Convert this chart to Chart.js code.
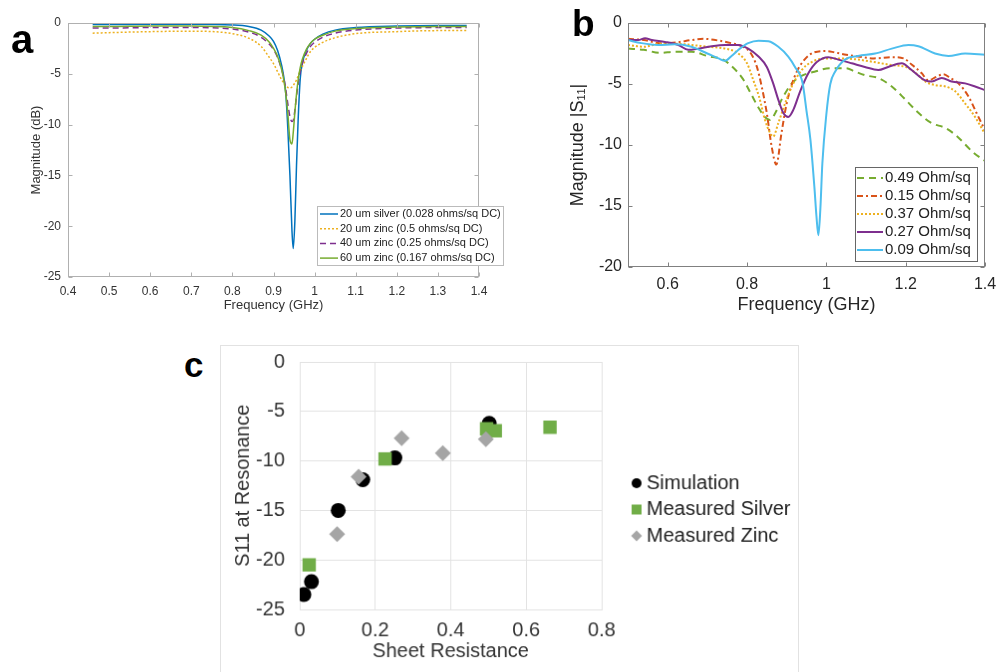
<!DOCTYPE html>
<html>
<head>
<meta charset="utf-8">
<script src="https://cdn.jsdelivr.net/npm/chart.js@4.4.1/dist/chart.umd.min.js"></script>
<style>
  body { margin: 0; width: 996px; height: 672px; overflow: hidden; background: #fff; position: relative; font-family: "Liberation Sans", Arial, sans-serif; }
  canvas { position: absolute; }
  #cvA { left: 0; top: 0; }
  #cvB { left: 540px; top: 0; }
  #cvC { left: 220px; top: 345px; border: 1px solid #e2e2e2; }
  .tag { position: absolute; font-weight: bold; line-height: 1; color: #000; }
</style>
</head>
<body>
<canvas id="cvA" width="540" height="320"></canvas>
<canvas id="cvB" width="456" height="320"></canvas>
<canvas id="cvC" width="579" height="330"></canvas>
<div class="tag" style="left:11px;top:19px;font-size:40px">a</div>
<div class="tag" style="left:572px;top:5px;font-size:37px">b</div>
<div class="tag" style="left:184px;top:347px;font-size:35px">c</div>
<script>
// ---- panel a : simulated S11 (dB) ----
const freqA = [0.46, 0.5, 0.6, 0.7, 0.8, 0.84, 0.87, 0.89, 0.9, 0.91, 0.92, 0.925, 0.93, 0.935, 0.94, 0.945,
               0.948, 0.952, 0.956, 0.96, 0.965, 0.97, 0.98, 0.99, 1.0, 1.02, 1.05, 1.1, 1.2, 1.3, 1.37];
const silver20 = [-0.15, -0.15, -0.13, -0.13, -0.2, -0.35, -0.7, -1.3, -1.8, -2.7, -4.2, -5.3, -7, -10.5, -15, -20.5,
                  -22.2, -19.5, -14, -9.5, -5.5, -4, -2.7, -2.0, -1.6, -1.1, -0.7, -0.45, -0.3, -0.25, -0.25];
const zinc20 = [-1.0, -0.95, -0.85, -0.8, -1.05, -1.5, -2.3, -3.4, -4.0, -4.8, -5.6, -5.9, -6.2, -6.35, -6.4, -6.3,
                -6.15, -5.9, -5.6, -5.2, -4.7, -4.3, -3.5, -2.8, -2.4, -1.9, -1.45, -1.05, -0.85, -0.75, -0.75];
const zinc40 = [-0.5, -0.5, -0.45, -0.45, -0.6, -0.9, -1.4, -2.1, -2.6, -3.4, -4.6, -5.4, -6.6, -8.0, -9.2, -9.7,
                -9.6, -8.6, -7.2, -6.0, -4.8, -4.0, -3.0, -2.3, -1.9, -1.4, -1.0, -0.7, -0.5, -0.45, -0.45];
const zinc60 = [-0.35, -0.35, -0.3, -0.3, -0.45, -0.75, -1.2, -1.9, -2.5, -3.3, -4.6, -5.6, -7.0, -9.0, -11.5, -11.9,
                -10.8, -8.8, -7.0, -5.6, -4.4, -3.6, -2.6, -2.0, -1.6, -1.2, -0.8, -0.55, -0.4, -0.35, -0.35];
const aTicksX = [0.4, 0.5, 0.6, 0.7, 0.8, 0.9, 1, 1.1, 1.2, 1.3, 1.4];
const aTicksY = [0, -5, -10, -15, -20, -25];

// ---- panel b : measured |S11| ----
const bFreq049 = [0.5, 0.54, 0.58, 0.62, 0.66, 0.7, 0.74, 0.76, 0.79, 0.81, 0.83, 0.845, 0.858, 0.871, 0.887, 0.913,
                  0.94, 0.97, 1.01, 1.05, 1.07, 1.1, 1.13, 1.165, 1.2, 1.23, 1.265, 1.3, 1.33, 1.37, 1.4];
const bMag049 = [-2.1, -2.2, -2.45, -2.35, -2.35, -2.7, -3.0, -3.5, -4.6, -5.8, -7.0, -7.7, -7.95, -7.4, -6.3, -4.95,
                 -4.3, -4.0, -3.7, -3.7, -3.95, -4.3, -4.5, -5.2, -6.3, -7.3, -8.2, -8.6, -9.3, -10.6, -11.3];
const bFreq015 = [0.5, 0.54, 0.58, 0.62, 0.66, 0.69, 0.73, 0.76, 0.79, 0.81, 0.825, 0.837, 0.85, 0.862, 0.874, 0.887,
                  0.9, 0.92, 0.945, 0.97, 1.0, 1.02, 1.05, 1.08, 1.12, 1.165, 1.195, 1.215, 1.24, 1.257, 1.278, 1.295,
                  1.312, 1.333, 1.358, 1.379, 1.4];
const bMag015 = [-1.3, -1.4, -1.65, -1.6, -1.4, -1.3, -1.45, -1.65, -1.95, -2.5, -3.6, -5.2, -7.4, -10.1, -11.6, -9.0,
                 -6.6, -4.4, -3.0, -2.4, -2.3, -2.4, -2.6, -2.75, -2.9, -2.8, -2.9, -3.4, -4.1, -4.7, -4.4, -4.2,
                 -4.5, -4.95, -6.0, -7.4, -8.8];
const bFreq037 = [0.5, 0.54, 0.58, 0.62, 0.66, 0.7, 0.745, 0.778, 0.8, 0.816, 0.83, 0.845, 0.858, 0.866, 0.879, 0.896,
                  0.913, 0.938, 0.963, 1.0, 1.04, 1.08, 1.12, 1.165, 1.2, 1.225, 1.25, 1.275, 1.3, 1.325, 1.35, 1.375, 1.4];
const bMag037 = [-1.8, -1.95, -1.7, -1.7, -1.8, -1.95, -2.1, -2.5, -3.3, -4.7, -6.0, -7.9, -9.0, -9.3, -8.2, -6.6,
                 -5.2, -3.85, -3.2, -2.9, -2.9, -3.0, -3.2, -3.45, -3.6, -4.1, -4.8, -5.1, -5.2, -5.6, -6.6, -7.7, -9.1];
const bFreq027 = [0.5, 0.526, 0.543, 0.56, 0.593, 0.627, 0.652, 0.677, 0.711, 0.745, 0.778, 0.803, 0.829, 0.85, 0.866,
                  0.879, 0.892, 0.904, 0.917, 0.934, 0.955, 0.976, 1.005, 1.03, 1.064, 1.097, 1.131, 1.156, 1.19, 1.215,
                  1.249, 1.266, 1.291, 1.316, 1.35, 1.375, 1.4];
const bMag027 = [-1.4, -1.4, -1.25, -1.4, -1.55, -1.8, -2.2, -2.1, -1.9, -1.8, -1.8, -2.1, -2.75, -3.6, -4.95,
                 -6.3, -7.4, -7.7, -7.1, -5.6, -4.1, -3.2, -2.8, -3.0, -3.3, -3.6, -3.85, -3.6, -3.3, -3.85,
                 -4.7, -4.8, -4.5, -4.8, -4.95, -5.2, -5.5];
const bFreq009 = [0.5, 0.534, 0.576, 0.618, 0.66, 0.7, 0.728, 0.745, 0.761, 0.782, 0.803, 0.829, 0.854, 0.879, 0.904,
                  0.921, 0.94, 0.95, 0.96, 0.97, 0.975, 0.98, 0.985, 0.99, 1.0, 1.01, 1.022, 1.047, 1.08, 1.123, 1.165,
                  1.207, 1.232, 1.274, 1.308, 1.35, 1.4];
const bMag009 = [-1.4, -1.65, -1.8, -1.75, -1.95, -2.5, -2.9, -3.1, -2.7, -2.1, -1.65, -1.45, -1.5, -1.95, -2.75,
                 -3.6, -4.9, -7.2, -9.6, -13.5, -15.8, -17.4, -15.2, -11.5, -7.5, -5.0, -4.0, -3.0, -2.7, -2.5, -2.1,
                 -1.8, -1.9, -2.5, -2.7, -2.5, -2.6];
const bTicksX = [0.6, 0.8, 1, 1.2, 1.4];
const bTicksY = [0, -5, -10, -15, -20];

// ---- panel c : S11 at resonance vs sheet resistance ----
const simR = [0.011, 0.031, 0.102, 0.167, 0.252, 0.502];
const simS11 = [-23.5, -22.2, -15.0, -11.9, -9.7, -6.2];
const silverR = [0.025, 0.226, 0.495, 0.518, 0.663];
const silverS11 = [-20.5, -9.8, -6.75, -6.95, -6.6];
const zincR = [0.099, 0.156, 0.27, 0.379, 0.493];
const zincS11 = [-17.4, -11.6, -7.7, -9.2, -7.8];
const cTicksX = [0, 0.2, 0.4, 0.6, 0.8];
const cTicksY = [0, -5, -10, -15, -20, -25];

const FONT = '"Liberation Sans", Arial, Helvetica, sans-serif';
Chart.defaults.font.family = FONT;

const pairs = (xs, ys) => xs.map((x, i) => ({ x: x, y: ys[i] }));
const fixTicks = vals => scale => { scale.ticks = vals.map(v => ({ value: v })); };
const tickText = v => String(+Number(v).toFixed(2));
// fixed axis sizes, and no extra room asked for the end labels
const yWidth = w => s => { s.width = w; s.paddingTop = 0; s.paddingBottom = 0; };
const xHeight = h => s => { s.height = h; s.paddingLeft = 0; s.paddingRight = 0; };

function line(label, xs, ys, color, width, dash, order) {
    return {
        label: label, data: pairs(xs, ys), borderColor: color, borderWidth: width,
        borderDash: dash, pointRadius: 0, fill: false, cubicInterpolationMode: 'monotone', order: order
    };
}

// matlab style box with inward ticks
function boxAxes(color, len) {
    return {
        id: 'boxAxes',
        afterDatasetsDraw(chart) {
            const { ctx, chartArea: a, scales } = chart;
            const l = Math.round(a.left) + 0.5, r = Math.round(a.right) - 0.5;
            const t = Math.round(a.top) + 0.5, b = Math.round(a.bottom) - 0.5;
            ctx.save();
            ctx.strokeStyle = color;
            ctx.lineWidth = 1;
            ctx.strokeRect(l, t, r - l, b - t);
            ctx.beginPath();
            scales.x.ticks.forEach(tk => {
                const px = Math.round(scales.x.getPixelForValue(tk.value)) + 0.5;
                ctx.moveTo(px, b); ctx.lineTo(px, b - len);
                ctx.moveTo(px, t); ctx.lineTo(px, t + len);
            });
            scales.y.ticks.forEach(tk => {
                const py = Math.round(scales.y.getPixelForValue(tk.value)) + 0.5;
                ctx.moveTo(l, py); ctx.lineTo(l + len, py);
                ctx.moveTo(r, py); ctx.lineTo(r - len, py);
            });
            ctx.stroke();
            ctx.restore();
        }
    };
}

function lineLegend(cfg) {
    return {
        id: 'lineLegend',
        afterDraw(chart) {
            const ctx = chart.ctx;
            ctx.save();
            ctx.fillStyle = '#fff';
            ctx.fillRect(cfg.x, cfg.y, cfg.w, cfg.h);
            ctx.strokeStyle = cfg.border;
            ctx.lineWidth = 1;
            ctx.strokeRect(cfg.x + 0.5, cfg.y + 0.5, cfg.w, cfg.h);
            ctx.font = cfg.font;
            ctx.textBaseline = 'middle';
            ctx.textAlign = 'left';
            chart.data.datasets.forEach((ds, i) => {
                const y = cfg.y + cfg.first + i * cfg.step;
                ctx.strokeStyle = ds.borderColor;
                ctx.lineWidth = ds.borderWidth;
                ctx.setLineDash(ds.borderDash || []);
                ctx.beginPath();
                ctx.moveTo(cfg.x + cfg.s0, y);
                ctx.lineTo(cfg.x + cfg.s1, y);
                ctx.stroke();
                ctx.setLineDash([]);
                ctx.fillStyle = cfg.color;
                ctx.fillText(ds.label, cfg.x + cfg.tx, y);
            });
            ctx.restore();
        }
    };
}

function markerLegend(cfg) {
    return {
        id: 'markerLegend',
        afterDraw(chart) {
            const ctx = chart.ctx;
            ctx.save();
            ctx.font = cfg.font;
            ctx.textBaseline = 'middle';
            chart.data.datasets.forEach((ds, i) => {
                const y = cfg.y + i * cfg.step, x = cfg.x;
                ctx.fillStyle = ds.backgroundColor;
                ctx.beginPath();
                if (ds.pointStyle === 'circle') ctx.arc(x, y, 5, 0, Math.PI * 2);
                else if (ds.pointStyle === 'rect') ctx.rect(x - 5, y - 5, 10, 10);
                else { ctx.moveTo(x, y - 5.5); ctx.lineTo(x + 5.5, y); ctx.lineTo(x, y + 5.5); ctx.lineTo(x - 5.5, y); ctx.closePath(); }
                ctx.fill();
                ctx.fillStyle = cfg.color;
                ctx.fillText(ds.label, cfg.tx, y);
            });
            ctx.restore();
        }
    };
}

const base = { responsive: false, animation: false, devicePixelRatio: 1,
               plugins: { legend: { display: false }, tooltip: { enabled: false } } };

// panel a
new Chart(document.getElementById('cvA'), {
    type: 'line',
    data: {
        datasets: [
            line('20 um silver (0.028 ohms/sq DC)', freqA, silver20, '#0072BD', 1.5, [], 4),
            line('20 um zinc (0.5 ohms/sq DC)', freqA, zinc20, '#EDB120', 1.5, [2, 2], 3),
            line('40 um zinc (0.25 ohms/sq DC)', freqA, zinc40, '#7E2F8E', 1.5, [6, 4], 2),
            line('60 um zinc (0.167 ohms/sq DC)', freqA, zinc60, '#77AC30', 1.5, [], 1)
        ]
    },
    options: Object.assign({}, base, {
        layout: { padding: { left: 0, top: 23, right: 61, bottom: 0 } },
        scales: {
            x: {
                type: 'linear', min: 0.4, max: 1.4,
                afterBuildTicks: fixTicks(aTicksX), afterFit: xHeight(43),
                grid: { display: false, drawTicks: false }, border: { display: false },
                ticks: { callback: tickText, padding: 7, autoSkip: false, maxRotation: 0, color: '#333', font: { size: 12 } },
                title: { display: true, text: 'Frequency (GHz)', color: '#333', font: { size: 13 }, padding: { top: 0, bottom: 7 } }
            },
            y: {
                type: 'linear', min: -25, max: 0,
                afterBuildTicks: fixTicks(aTicksY), afterFit: yWidth(68),
                grid: { display: false, drawTicks: false }, border: { display: false },
                ticks: { callback: tickText, padding: 7, color: '#333', font: { size: 12 } },
                title: { display: true, text: 'Magnitude (dB)', color: '#333', font: { size: 13 }, padding: { top: 29, bottom: 0 } }
            }
        }
    }),
    plugins: [boxAxes('#b0b0b0', 4), lineLegend({ x: 317, y: 206, w: 186, h: 59, first: 8, step: 14.7, s0: 3, s1: 21, tx: 23,
                                                  font: '11px ' + FONT, color: '#222', border: '#bbb' })]
});

// panel b
new Chart(document.getElementById('cvB'), {
    type: 'line',
    data: {
        datasets: [
            line('0.49 Ohm/sq', bFreq049, bMag049, '#77AC30', 2, [7, 5], 5),
            line('0.15 Ohm/sq', bFreq015, bMag015, '#D95319', 2, [6, 3, 2, 3], 4),
            line('0.37 Ohm/sq', bFreq037, bMag037, '#EDB120', 2, [2, 2], 3),
            line('0.27 Ohm/sq', bFreq027, bMag027, '#7E2F8E', 2, [], 2),
            line('0.09 Ohm/sq', bFreq009, bMag009, '#4DBEEE', 2, [], 1)
        ]
    },
    options: Object.assign({}, base, {
        layout: { padding: { left: 0, top: 23, right: 11, bottom: 0 } },
        scales: {
            x: {
                type: 'linear', min: 0.5, max: 1.4,
                afterBuildTicks: fixTicks(bTicksX), afterFit: xHeight(53),
                grid: { display: false, drawTicks: false }, border: { display: false },
                ticks: { callback: tickText, padding: 8, autoSkip: false, maxRotation: 0, color: '#262626', font: { size: 16 } },
                title: { display: true, text: 'Frequency (GHz)', color: '#262626', font: { size: 18 }, padding: { top: 0, bottom: 4 } }
            },
            y: {
                type: 'linear', min: -20, max: 0,
                afterBuildTicks: fixTicks(bTicksY), afterFit: yWidth(88),
                grid: { display: false, drawTicks: false }, border: { display: false },
                ticks: { callback: tickText, padding: 6, color: '#262626', font: { size: 16 } },
                title: { display: true, text: 'Magnitude |S\u2081\u2081|', color: '#262626', font: { size: 18 }, padding: { top: 27, bottom: 0 } }
            }
        }
    }),
    plugins: [boxAxes('#808080', 4), lineLegend({ x: 315, y: 167, w: 122, h: 94, first: 11, step: 18, s0: 2, s1: 28, tx: 30,
                                                  font: '15px ' + FONT, color: '#222', border: '#666' })]
});

// panel c
new Chart(document.getElementById('cvC'), {
    type: 'scatter',
    data: {
        datasets: [
            { label: 'Simulation', data: pairs(simR, simS11), pointStyle: 'circle', pointRadius: 7.5,
              backgroundColor: '#000000', borderWidth: 0, order: 3 },
            { label: 'Measured Silver', data: pairs(silverR, silverS11), pointStyle: 'rect', pointRadius: 9.5,
              backgroundColor: '#70AD47', borderWidth: 0, order: 2 },
            { label: 'Measured Zinc', data: pairs(zincR, zincS11), pointStyle: 'rectRot', pointRadius: 8,
              backgroundColor: '#A5A5A5', borderWidth: 0, order: 1 }
        ]
    },
    options: Object.assign({}, base, {
        layout: { padding: { left: 0, top: 16, right: 197, bottom: 0 } },
        scales: {
            x: {
                type: 'linear', min: 0, max: 0.8,
                afterBuildTicks: fixTicks(cTicksX), afterFit: xHeight(65),
                grid: { color: '#e3e3e3', drawTicks: false }, border: { color: '#e3e3e3' },
                ticks: { callback: tickText, padding: 9, autoSkip: false, maxRotation: 0, color: '#333', font: { size: 20 } },
                title: { display: true, text: 'Sheet Resistance', color: '#333', font: { size: 20 }, padding: { top: 0, bottom: 11 } }
            },
            y: {
                type: 'linear', min: -25, max: 0,
                afterBuildTicks: fixTicks(cTicksY), afterFit: yWidth(79),
                grid: { color: '#e3e3e3', drawTicks: false }, border: { color: '#e3e3e3' },
                ticks: { callback: tickText, padding: 15, color: '#333', font: { size: 20 } },
                title: { display: true, text: 'S11 at Resonance', color: '#333', font: { size: 20 }, padding: { top: 10, bottom: 0 } }
            }
        }
    }),
    plugins: [markerLegend({ x: 417, y: 138, step: 26.5, tx: 427, font: '20px ' + FONT, color: '#222' })]
});
</script>
</body>
</html>
